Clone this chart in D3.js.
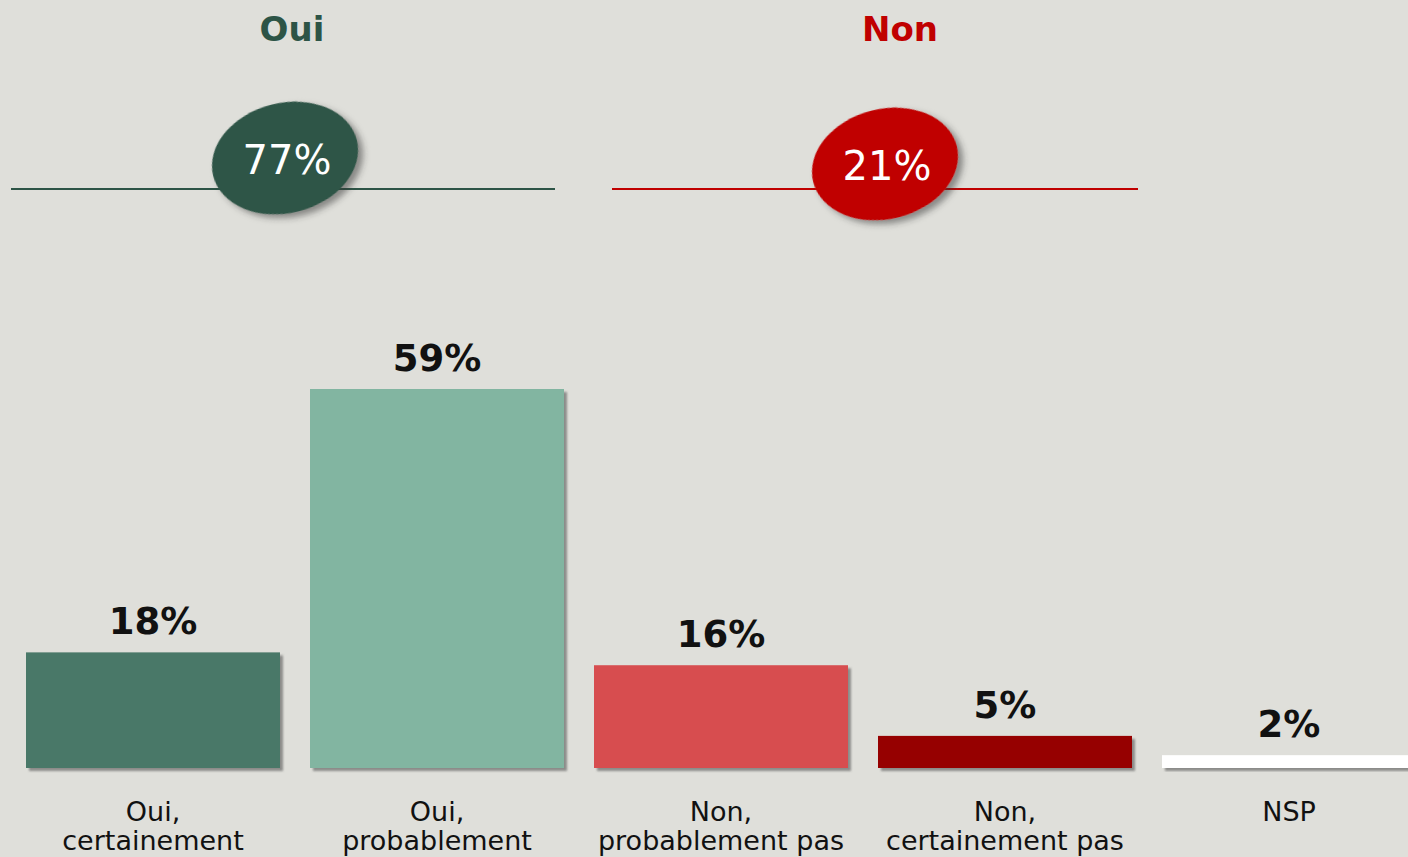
<!DOCTYPE html>
<html>
<head>
<meta charset="utf-8">
<script src="https://cdn.jsdelivr.net/npm/d3@7"></script>
<style>
  body { margin: 0; background: #dfdfda; overflow: hidden; }
</style>
</head>
<body>
<script>
var categories = ["Oui,|certainement", "Oui,|probablement", "Non,|probablement pas", "Non,|certainement pas", "NSP"];
var values = [18, 59, 16, 5, 2];
var barColors = ["#497868", "#82b5a1", "#d74e4f", "#960000", "#ffffff"];
var groupNames = ["Oui", "Non"];
var groupTotals = [77, 21];
var groupMembers = [[0, 1], [2, 3]];
var groupColors = ["#2d5446", "#c00000"];

var width = 1408;
var height = 857;

var svg = d3.select("body")
  .append("svg")
  .attr("width", width)
  .attr("height", height);

var defs = svg.append("defs");
defs.append("filter")
  .attr("id", "barShadow")
  .attr("x", "-5%").attr("y", "-5%").attr("width", "115%").attr("height", "130%")
  .append("feDropShadow")
  .attr("dx", 3).attr("dy", 3).attr("stdDeviation", 1.2)
  .attr("flood-color", "#555").attr("flood-opacity", 0.6);
defs.append("filter")
  .attr("id", "ovalShadow")
  .attr("x", "-20%").attr("y", "-20%").attr("width", "150%").attr("height", "150%")
  .append("feDropShadow")
  .attr("dx", 4).attr("dy", 5).attr("stdDeviation", 3)
  .attr("flood-color", "#333").attr("flood-opacity", 0.5);

var x = d3.scaleBand()
  .domain(categories)
  .range([26, 1416])
  .paddingInner(30 / 284)
  .paddingOuter(0);

var y = d3.scaleLinear()
  .domain([0, 59])
  .range([768, 389]);

// bars
svg.selectAll("rect.bar")
  .data(values)
  .enter()
  .append("rect")
  .attr("class", "bar")
  .attr("x", function(d, i) { return x(categories[i]); })
  .attr("y", function(d) { return y(d); })
  .attr("width", x.bandwidth())
  .attr("height", function(d) { return y(0) - y(d); })
  .attr("fill", function(d, i) { return barColors[i]; })
  .attr("filter", "url(#barShadow)");

// value labels
svg.selectAll("text.value")
  .data(values)
  .enter()
  .append("text")
  .attr("class", "value")
  .text(function(d) { return d + "%"; })
  .attr("x", function(d, i) { return x(categories[i]) + x.bandwidth() / 2; })
  .attr("y", function(d) { return y(d) - 18; })
  .attr("font-family", "DejaVu Sans, sans-serif")
  .attr("font-weight", "bold")
  .attr("font-size", "37px")
  .attr("fill", "#111")
  .attr("text-anchor", "middle");

// category labels
var catLabels = svg.selectAll("text.cat")
  .data(categories)
  .enter()
  .append("text")
  .attr("class", "cat")
  .attr("x", function(d) { return x(d) + x.bandwidth() / 2; })
  .attr("y", 821)
  .attr("font-family", "DejaVu Sans, sans-serif")
  .attr("font-size", "27px")
  .attr("fill", "#111")
  .attr("text-anchor", "middle");

catLabels.each(function(d) {
  var lines = d.split("|");
  var t = d3.select(this);
  lines.forEach(function(line, k) {
    t.append("tspan")
      .attr("x", t.attr("x"))
      .attr("dy", k === 0 ? 0 : 29)
      .text(line);
  });
});

// group annotations
groupNames.forEach(function(name, g) {
  var first = groupMembers[g][0];
  var last = groupMembers[g][groupMembers[g].length - 1];
  var x0 = x(categories[first]);
  var x1 = x(categories[last]) + x.bandwidth();
  var cx = (x0 + x1) / 2;
  var lineLeft = g === 0 ? x0 - 15 : x0 + 18;
  var lineRight = g === 0 ? x1 - 9 : x1 + 6;
  var ovalX = g === 0 ? cx - 10 : cx + 22;
  var ovalY = g === 0 ? 158 : 164;

  svg.append("text")
    .text(name)
    .attr("x", g === 0 ? cx - 3 : cx + 37)
    .attr("y", 41)
    .attr("font-family", "DejaVu Sans, sans-serif")
    .attr("font-weight", "bold")
    .attr("font-size", "34px")
    .attr("fill", groupColors[g])
    .attr("text-anchor", "middle");

  svg.append("line")
    .attr("x1", lineLeft)
    .attr("x2", lineRight)
    .attr("y1", 189)
    .attr("y2", 189)
    .attr("stroke", groupColors[g])
    .attr("stroke-width", 2);

  svg.append("ellipse")
    .attr("cx", ovalX)
    .attr("cy", ovalY)
    .attr("rx", 74)
    .attr("ry", 55)
    .attr("transform", "rotate(-14," + ovalX + "," + ovalY + ")")
    .attr("fill", groupColors[g])
    .attr("filter", "url(#ovalShadow)");

  svg.append("text")
    .text(groupTotals[g] + "%")
    .attr("x", ovalX + 2)
    .attr("y", ovalY + 16)
    .attr("font-family", "DejaVu Sans, sans-serif")
    .attr("font-size", "40px")
    .attr("fill", "#ffffff")
    .attr("text-anchor", "middle");
});
</script>
</body>
</html>
